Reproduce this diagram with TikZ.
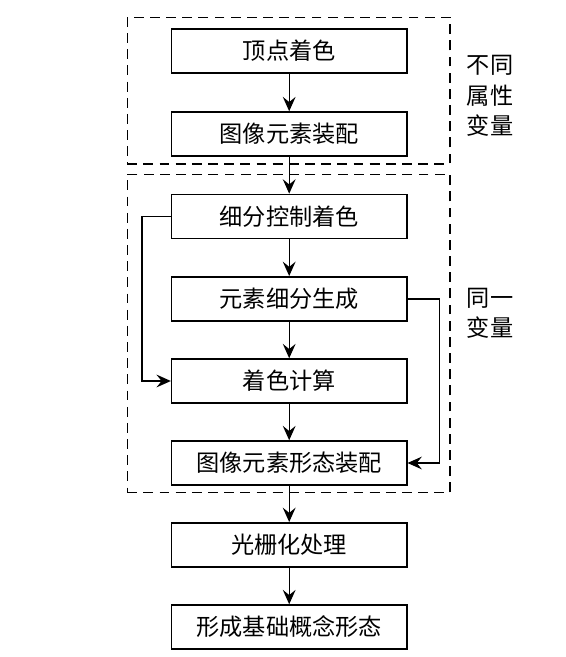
\documentclass[tikz,border=0pt]{standalone}
\usepackage{fontspec}
\newfontfamily\cjk{Noto Sans CJK SC}
\usepackage{tikz}
\usetikzlibrary{shapes,arrows.meta}
\tikzstyle{block} = [rectangle, draw, line width=1.05pt, minimum width=5.88cm, minimum height=1.1cm, inner sep=0pt, text centered, font=\cjk\fontsize{16.5}{21}\selectfont]
\tikzstyle{group} = [rectangle, draw, line width=0.95pt, dash pattern=on 7pt off 4.5pt, inner sep=0pt]
\tikzstyle{side} = [align=left, font=\cjk\fontsize{16.5}{21.5}\selectfont]
\tikzstyle{line} = [draw, line width=1pt, -{Stealth[length=3.6mm,width=3.2mm,inset=1.3mm]}]

\begin{document}
\begin{tikzpicture}
\useasboundingbox (0,0) rectangle (14.15,-16.425);
% dashed groups
\node [group, minimum width=8.07cm, minimum height=3.67cm] (attr-group) at (7.215,-2.265) {};
\node [group, minimum width=8.07cm, minimum height=7.96cm] (same-group) at (7.215,-8.34) {};
\node [side] (attr-label) at (12.25,-2.4) {不同\\属性\\变量};
\node [side] (same-label) at (12.25,-7.83) {同一\\变量};
% steps
\node [block] (vertex) at (7.23,-1.275) {顶点着色};
\node [block] (assembly) at (7.23,-3.35) {图像元素装配};
\node [block] (subdiv-ctrl) at (7.23,-5.41) {细分控制着色};
\node [block] (subdiv-gen) at (7.23,-7.47) {元素细分生成};
\node [block] (shading) at (7.23,-9.525) {着色计算};
\node [block] (form-assembly) at (7.23,-11.575) {图像元素形态装配};
\node [block] (raster) at (7.23,-13.62) {光栅化处理};
\node [block] (concept) at (7.23,-15.675) {形成基础概念形态};
\path [line] (vertex) -- (assembly);
\path [line] (assembly) -- (subdiv-ctrl);
\path [line] (subdiv-ctrl) -- (subdiv-gen);
\path [line] (subdiv-gen) -- (shading);
\path [line] (shading) -- (form-assembly);
\path [line] (form-assembly) -- (raster);
\path [line] (raster) -- (concept);
\path [line] (subdiv-ctrl.west) -- ++(-0.72,0) |- (shading.west);
\path [line] (subdiv-gen.east) -- ++(0.8,0) |- (form-assembly.east);
\end{tikzpicture}
\end{document}
